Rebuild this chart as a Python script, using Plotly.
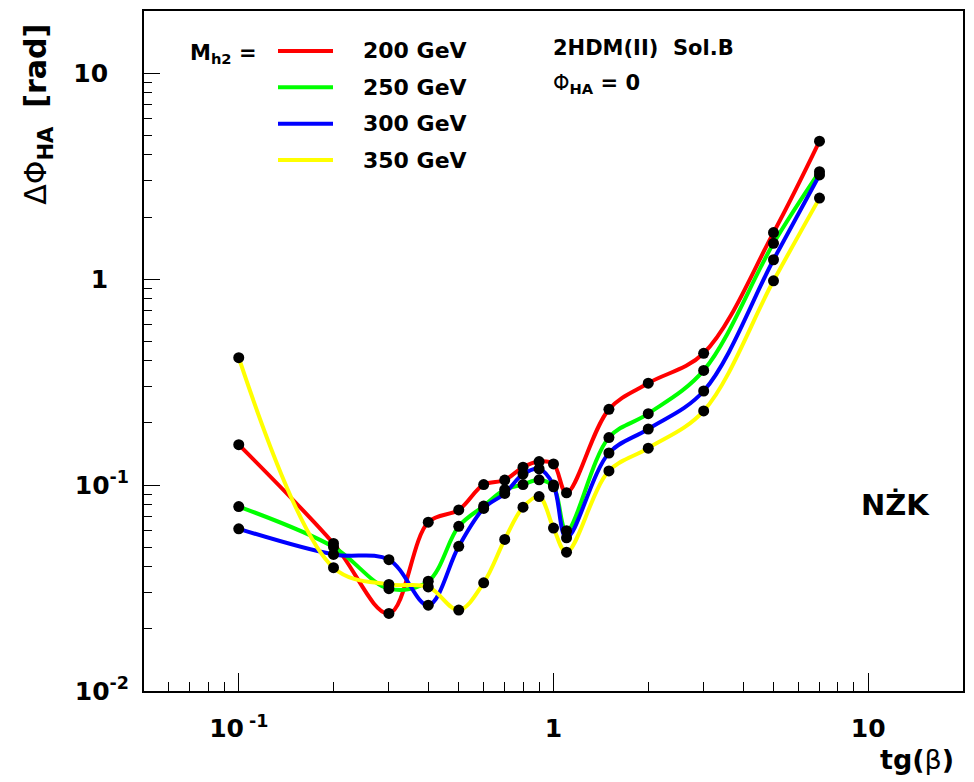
import plotly.graph_objects as go

# ---------------- data ----------------
tan_beta = [0.1, 0.2, 0.3, 0.4, 0.5, 0.6, 0.7, 0.8, 0.9, 1.0, 1.1, 1.5, 2.0, 3.0, 5.0, 7.0]

dphi_200 = [0.157, 0.052, 0.0238, 0.066, 0.0757, 0.1005, 0.1057, 0.122, 0.130, 0.1265,
            0.0916, 0.233, 0.312, 0.436, 1.68, 4.67]
dphi_250 = [0.0786, 0.050, 0.0314, 0.0341, 0.063, 0.079, 0.095, 0.1005, 0.106, 0.098,
            0.060, 0.170, 0.222, 0.360, 1.49, 3.32]
dphi_300 = [0.0613, 0.046, 0.0434, 0.0261, 0.0504, 0.077, 0.091, 0.113, 0.1197, 0.100,
            0.0554, 0.143, 0.187, 0.286, 1.24, 3.20]
dphi_350 = [0.415, 0.0397, 0.0329, 0.032, 0.0247, 0.0335, 0.0544, 0.078, 0.0879, 0.0618,
            0.0472, 0.117, 0.151, 0.229, 0.98, 2.47]

series_names = ["200 GeV", "250 GeV", "300 GeV", "350 GeV"]
series_values = [dphi_200, dphi_250, dphi_300, dphi_350]
series_colors = ["#ff0000", "#00ff00", "#0000ff", "#ffff00"]

x_tick_vals = [0.1, 1, 10]
x_tick_text = ["<b>10\u2009<sup>-1</sup></b>", "<b>1</b>", "<b>10</b>"]
x_minor_vals = [0.06, 0.07, 0.08, 0.09, 0.2, 0.3, 0.4, 0.5, 0.6, 0.7, 0.8, 0.9,
                2, 3, 4, 5, 6, 7, 8, 9]
y_tick_vals = [0.01, 0.1, 1, 10]
y_tick_text = ["<b>10<sup>-2</sup></b>", "<b>10<sup>-1</sup></b>",
               "<b>1</b>\u2007\u2009", "<b>10</b>\u2007\u2009"]
y_minor_vals = [m * d for d in (0.01, 0.1, 1) for m in range(2, 10)] + [20]

# ---------------- layout helpers ----------------
# page body has an 8px offset; plot area on screen spans x 144..963, y 9..691
OFF = 8
W, H = 974 - OFF, 782 - OFF
L, R, T, B = 144 - OFF, 11, 9 - OFF, 91
PW, PH = W - L - R, H - T - B
SX0, SY1 = 144, 691  # screen coords of plot-area left / bottom


def fx(px):
    return (px - SX0) / PW


def fy(py):
    return (SY1 - py) / PH


FONT = "DejaVu Sans"

fig = go.Figure()

for name, vals, col in zip(series_names, series_values, series_colors):
    fig.add_trace(go.Scatter(
        x=tan_beta, y=vals, mode="lines", name=name,
        line=dict(color=col, width=4, shape="spline", smoothing=1.0),
        showlegend=False, hoverinfo="skip"))

for name, vals in zip(series_names, series_values):
    fig.add_trace(go.Scatter(
        x=tan_beta, y=vals, mode="markers", name=name,
        marker=dict(color="black", size=11),
        showlegend=False))

shapes = []
annotations = []

# manual legend
row_y = [49, 85.5, 122, 158.5]
for i, (name, col) in enumerate(zip(series_names, series_colors)):
    yy = fy(row_y[i])
    shapes.append(dict(type="line", xref="paper", yref="paper",
                       x0=fx(278), x1=fx(333), y0=yy, y1=yy,
                       line=dict(color=col, width=4)))
    annotations.append(dict(xref="paper", yref="paper", x=fx(361), y=yy,
                            xanchor="left", yanchor="middle", showarrow=False,
                            text="<b>%s</b>" % name,
                            font=dict(family=FONT, size=22, color="black")))

annotations.append(dict(xref="paper", yref="paper", x=fx(188), y=fy(52),
                        xanchor="left", yanchor="middle", showarrow=False,
                        text="<b>M<sub>h2</sub> =</b>",
                        font=dict(family=FONT, size=21, color="black")))

annotations.append(dict(xref="paper", yref="paper", x=fx(551), y=fy(46),
                        xanchor="left", yanchor="middle", showarrow=False,
                        text="<b>2HDM(II)\u00a0\u00a0Sol.B</b>",
                        font=dict(family=FONT, size=21, color="black")))

annotations.append(dict(xref="paper", yref="paper", x=fx(551), y=fy(82),
                        xanchor="left", yanchor="middle", showarrow=False,
                        text="Φ<sub><b>HA</b></sub><b> = 0</b>",
                        font=dict(family=FONT, size=21, color="black")))

annotations.append(dict(xref="paper", yref="paper", x=fx(895), y=fy(504),
                        xanchor="center", yanchor="middle", showarrow=False,
                        text="<b>NŻK</b>",
                        font=dict(family=FONT, size=29, color="black")))

# axis titles
annotations.append(dict(xref="paper", yref="paper", x=fx(38), y=fy(112),
                        xanchor="center", yanchor="middle", showarrow=False,
                        textangle=-90,
                        text="ΔΦ<sub><b>HA</b></sub>\u00a0\u00a0<b>[rad]</b>",
                        font=dict(family=FONT, size=30, color="black")))

annotations.append(dict(xref="paper", yref="paper", x=fx(956), y=fy(760),
                        xanchor="right", yanchor="middle", showarrow=False,
                        text="<b>tg(</b>β<b>)</b>",
                        font=dict(family=FONT, size=27, color="black")))

fig.update_layout(
    width=W, height=H, autosize=False,
    margin=dict(l=L, r=R, t=T, b=B, pad=0),
    paper_bgcolor="white", plot_bgcolor="white",
    font=dict(family=FONT, color="black"),
    shapes=shapes, annotations=annotations,
    showlegend=False,
)

fig.update_xaxes(
    type="log", range=[-1.30103, 1.30103],
    tickmode="array", tickvals=x_tick_vals, ticktext=x_tick_text,
    ticks="inside", ticklen=18, tickwidth=1, tickcolor="black",
    minor=dict(ticks="inside", ticklen=9, tickwidth=1, tickcolor="black",
               tickmode="array", tickvals=x_minor_vals, showgrid=False),
    tickfont=dict(family=FONT, size=25, color="black"),
    ticklabelstandoff=14,
    showline=True, linecolor="black", linewidth=2, mirror=True,
    showgrid=False, zeroline=False,
)

fig.update_yaxes(
    type="log", range=[-2, 1.30103],
    tickmode="array", tickvals=y_tick_vals, ticktext=y_tick_text,
    ticks="inside", ticklen=16, tickwidth=1, tickcolor="black",
    minor=dict(ticks="inside", ticklen=8, tickwidth=1, tickcolor="black",
               tickmode="array", tickvals=y_minor_vals, showgrid=False),
    tickfont=dict(family=FONT, size=25, color="black"),
    ticklabelstandoff=8,
    showline=True, linecolor="black", linewidth=2, mirror=True,
    showgrid=False, zeroline=False,
)

fig.write_html("out.html")
